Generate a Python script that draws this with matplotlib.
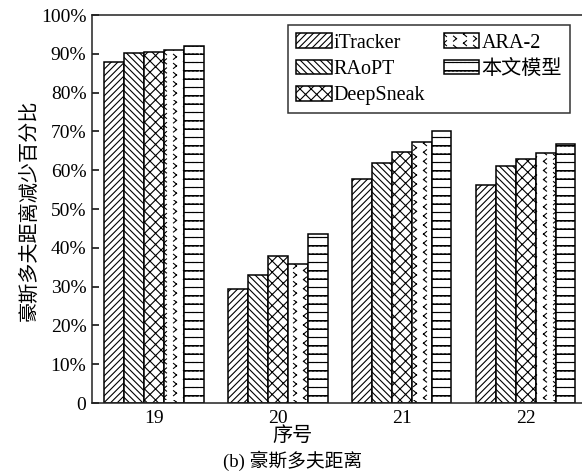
import warnings
import numpy as np
import matplotlib
matplotlib.use("Agg")
import matplotlib.pyplot as plt
import matplotlib.hatch as mhatch
from matplotlib.path import Path

warnings.filterwarnings("ignore")

# ---------------------------------------------------------------
# Data
# ---------------------------------------------------------------
groups = ["19", "20", "21", "22"]
methods = ["iTracker", "RAoPT", "DeepSneak", "ARA-2", "本文模型"]
itracker = [87.8, 29.4, 57.8, 56.1]
raopt = [90.1, 33.0, 61.9, 61.2]
deepsneak = [90.5, 37.9, 64.7, 63.0]
ara2 = [91.0, 35.9, 67.2, 64.4]
ours = [92.0, 43.6, 70.0, 66.8]
y_ticks = [0, 10, 20, 30, 40, 50, 60, 70, 80, 90, 100]
y_tick_labels = ["0", "10%", "20%", "30%", "40%", "50%",
                 "60%", "70%", "80%", "90%", "100%"]


# ---------------------------------------------------------------
# Two extra hatch patterns: staggered chevrons and dotted rows
# (built from open segments only, so agg does not fill them)
# ---------------------------------------------------------------
class ChevronHatch(mhatch.HatchPatternBase):
    def __init__(self, hatch, density):
        n = hatch.count("<")
        self.num_cols = n * 5
        self.num_rows = n * 11
        self.num_vertices = self.num_cols * self.num_rows * 8

    def set_vertices_and_codes(self, vertices, codes):
        w = 1.0 / self.num_cols
        h = 1.0 / self.num_rows
        a, b = 0.015, 0.025
        seg = [Path.MOVETO, Path.LINETO]
        k = 0
        for i in range(self.num_cols):
            for j in range(self.num_rows):
                x0, y0 = (i + 0.25) * w, (j + 0.25) * h
                x1, y1 = (i + 0.75) * w, (j + 0.75) * h
                vertices[k:k + 8] = [(x0 + a, y0 + b), (x0 - a, y0),
                                     (x0 - a, y0), (x0 + a, y0 - b),
                                     (x1 - a, y1 + b), (x1 + a, y1),
                                     (x1 + a, y1), (x1 - a, y1 - b)]
                codes[k:k + 8] = seg * 4
                k += 8


class DotRowHatch(mhatch.HatchPatternBase):
    def __init__(self, hatch, density):
        self.num_rows = hatch.count(":") * density
        self.num_dots = 25
        self.num_vertices = self.num_rows * self.num_dots * 2

    def set_vertices_and_codes(self, vertices, codes):
        k = 0
        for j in range(self.num_rows):
            y = (j + 0.5) / self.num_rows
            for i in range(self.num_dots):
                x = i / self.num_dots
                vertices[k] = (x, y)
                vertices[k + 1] = (x + 0.02, y)
                codes[k] = Path.MOVETO
                codes[k + 1] = Path.LINETO
                k += 2


mhatch._hatch_types.append(ChevronHatch)
mhatch._hatch_types.append(DotRowHatch)

# ---------------------------------------------------------------
# Style
# ---------------------------------------------------------------
plt.rcParams["font.family"] = ["Liberation Serif", "Noto Sans CJK SC"]
plt.rcParams["font.size"] = 14
plt.rcParams["hatch.linewidth"] = 0.8
plt.rcParams["hatch.color"] = "black"

hatches = ["/////", "\\\\\\\\\\", "xxx", "<", "--::"]
values = [itracker, raopt, deepsneak, ara2, ours]

fig = plt.figure(figsize=(5.82, 4.73), dpi=100)
ax = fig.add_axes([92 / 582, 1 - 403 / 473, 1 - 92 / 582 + 0.01, 388 / 473])

x = np.arange(len(groups))
width = 0.16
for i, (name, vals, h) in enumerate(zip(methods, values, hatches)):
    ax.bar(x + (i - 2) * width, vals, width=width, facecolor="white",
           edgecolor="black", linewidth=1.1, hatch=h, label=name)

ax.set_xlim(-0.5, 3.5)
ax.set_ylim(0, 100)
ax.set_xticks(x)
ax.set_xticklabels(groups)
ax.set_yticks(y_ticks)
ax.set_yticklabels(y_tick_labels)
ax.tick_params(axis="y", direction="in", length=5, width=1.1, pad=4)
ax.tick_params(axis="x", length=0, pad=5)
for s in ax.spines.values():
    s.set_linewidth(1.1)
    s.set_color("#222222")
ax.spines["right"].set_visible(False)

leg = ax.legend(ncol=2, loc="upper right", bbox_to_anchor=(0.964, 0.974),
                borderaxespad=0, fancybox=False, edgecolor="black",
                handlelength=1.75, handleheight=0.75, handletextpad=0.1,
                columnspacing=0.95, labelspacing=0.35, borderpad=0.4,
                fontsize=14.5)
leg.get_frame().set_linewidth(1.1)

fig.text(30 / 582, 1 - 210 / 473, "豪斯多夫距离减少百分比", rotation=90,
         ha="center", va="center", fontsize=14.5)
fig.text(0.503, 1 - 436 / 473, "序号", ha="center", va="center", fontsize=14.5)
fig.text(0.503, 1 - 461 / 473, "(b) 豪斯多夫距离", ha="center", va="center",
         fontsize=13.5)

fig.savefig("out.png", dpi=100)
